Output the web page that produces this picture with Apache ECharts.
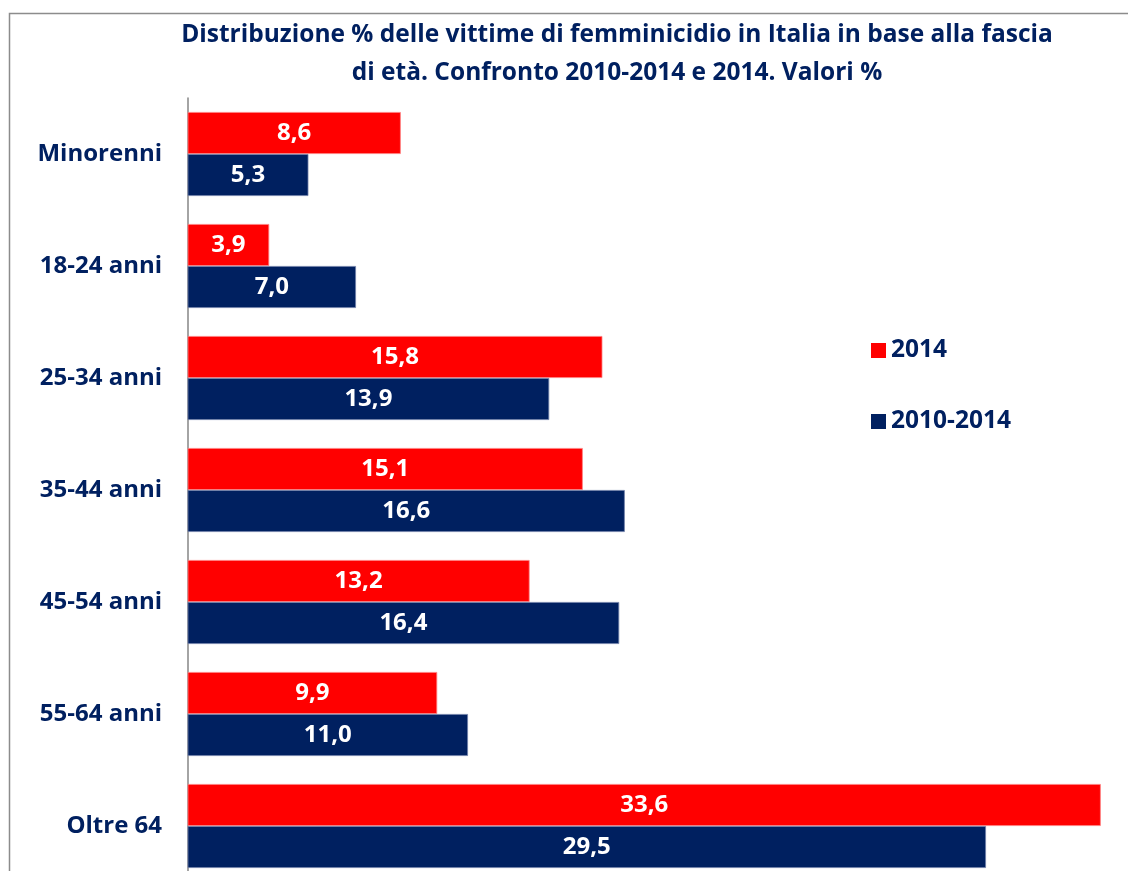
<!DOCTYPE html>
<html>
<head>
<meta charset="utf-8">
<script src="https://cdn.jsdelivr.net/npm/echarts@6/dist/echarts.min.js"></script>
<style>
html,body{margin:0;padding:0;background:#fff;}
#chart{width:1128px;height:871px;}
</style>
</head>
<body>
<div id="chart"></div>
<script>
// fasce di età (dall'alto verso il basso)
var categorie = ['Minorenni', '18-24 anni', '25-34 anni', '35-44 anni', '45-54 anni', '55-64 anni', 'Oltre 64'];
// valori %
var valori2014 = [8.6, 3.9, 15.8, 15.1, 13.2, 9.9, 33.6];
var valori2010_2014 = [5.3, 7.0, 13.9, 16.6, 16.4, 11.0, 29.5];
var nomiSerie = ['2014', '2010-2014'];

var blu = '#002060';
var rosso = '#ff0000';
var font = 'Open Sans';

function etichetta(p){
    return p.value.toFixed(1).replace('.', ',');
}

var option = {
    animation: false,
    textStyle: {fontFamily: font},
    graphic: [{
        type: 'rect',
        left: 7, top: 11,
        shape: {width: 1140, height: 900},
        style: {fill: 'none', stroke: '#8c8c8c', lineWidth: 1.5},
        silent: true
    }],
    title: {
        text: 'Distribuzione % delle vittime di femminicidio in Italia in base alla fascia\ndi età. Confronto 2010-2014 e 2014. Valori %',
        left: 612, top: 11,
        textAlign: 'center',
        textStyle: {
            fontFamily: font, fontWeight: 'bold', fontSize: 24.5,
            color: blu, lineHeight: 38
        }
    },
    legend: {
        orient: 'vertical',
        left: 866, top: 333,
        itemWidth: 15, itemHeight: 15,
        itemGap: 46,
        icon: 'rect',
        itemStyle: {borderWidth: 0},
        data: nomiSerie,
        textStyle: {fontFamily: font, fontWeight: 'bold', fontSize: 24.5, color: blu}
    },
    grid: {left: 188, top: 98, width: 924, height: 784, outerBoundsMode: 'none'},
    xAxis: {
        type: 'value',
        min: 1, max: 34,
        show: false
    },
    yAxis: {
        type: 'category',
        inverse: true,
        data: categorie,
        axisLine: {lineStyle: {color: '#868686', width: 1.5}},
        axisTick: {length: 8, lineStyle: {color: '#868686', width: 1.5}},
        axisLabel: {
            margin: 26,
            fontFamily: font, fontWeight: 'bold', fontSize: 24, color: blu
        }
    },
    series: [{
        name: nomiSerie[0],
        type: 'bar',
        data: valori2014,
        barGap: '0%',
        barCategoryGap: '25%',
        itemStyle: {color: rosso, borderColor: '#ff8080', borderWidth: 0.8},
        label: {show: true, position: 'inside', formatter: etichetta,
            fontFamily: font, fontWeight: 'bold', fontSize: 24, color: '#fff'}
    }, {
        name: nomiSerie[1],
        type: 'bar',
        data: valori2010_2014,
        barGap: '0%',
        barCategoryGap: '25%',
        itemStyle: {color: blu, borderColor: '#6f7fa8', borderWidth: 0.8},
        label: {show: true, position: 'inside', formatter: etichetta,
            fontFamily: font, fontWeight: 'bold', fontSize: 24, color: '#fff'}
    }]
};

echarts.init(document.getElementById('chart')).setOption(option);
</script>
</body>
</html>
